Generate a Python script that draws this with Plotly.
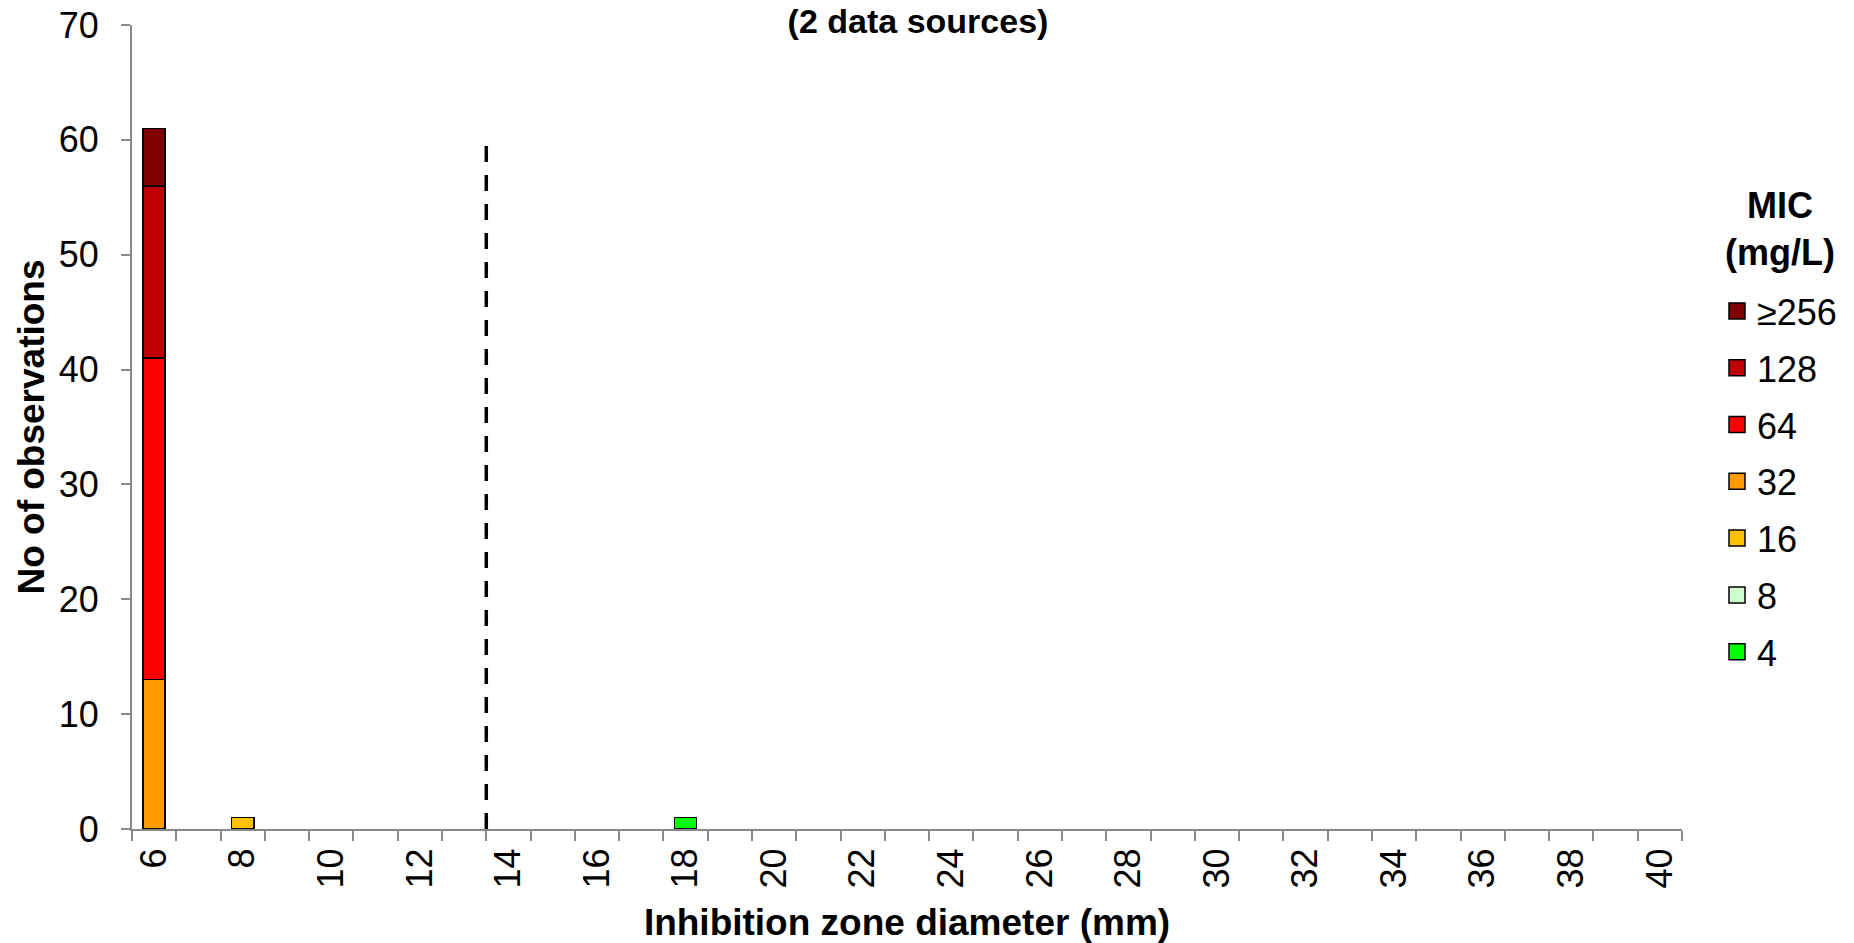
import plotly.graph_objects as go

# Inhibition zone diameters (mm) on the x axis
zone_min, zone_max = 6, 40
tick_labels = list(range(6, 41, 2))

# MIC classes, drawn bottom-to-top in the stack
mic_classes = ["4", "8", "16", "32", "64", "128", "≥256"]
mic_colors = ["#00FF00", "#CCFFCC", "#FFC000", "#FF9900", "#FF0000", "#C00000", "#800000"]

# Observation counts per MIC class: (diameter, count)
diam_4 = [18]
count_4 = [1]
diam_8 = []
count_8 = []
diam_16 = [8]
count_16 = [1]
diam_32 = [6]
count_32 = [13]
diam_64 = [6]
count_64 = [28]
diam_128 = [6]
count_128 = [15]
diam_256 = [6]
count_256 = [5]

series_x = [diam_4, diam_8, diam_16, diam_32, diam_64, diam_128, diam_256]
series_y = [count_4, count_8, count_16, count_32, count_64, count_128, count_256]

# Breakpoint marker between 13 and 14 mm
breakpoint_x = 13.5
breakpoint_top = 60

FONT = "Liberation Sans, Arial, sans-serif"
AXIS_GRAY = "#898989"

ML, MR, MT, MB = 132, 172, 25, 114
PLOT_W = 1854 - ML - MR
PLOT_H = 943 - MT - MB

fig = go.Figure()

for name, color, xs, ys in zip(mic_classes, mic_colors, series_x, series_y):
    fig.add_trace(go.Bar(
        x=xs, y=ys, name=name, width=0.5,
        marker=dict(color=color, line=dict(color="black", width=1.6)),
        legendgroup=name, showlegend=False,
    ))

# Legend entries with larger square swatches, highest MIC first
for name, color in reversed(list(zip(mic_classes, mic_colors))):
    fig.add_trace(go.Scatter(
        x=[None], y=[None], mode="markers", name=name, legendgroup=name,
        marker=dict(symbol="square", size=16, color=color,
                    line=dict(color="black", width=1.5)),
    ))

fig.add_shape(
    type="line", xref="x", yref="y",
    x0=breakpoint_x, x1=breakpoint_x, y0=0, y1=breakpoint_top,
    line=dict(color="black", width=3.5, dash="16px,13px"),
)

# Legend heading, centred over the swatches
fig.add_annotation(
    text="<b>MIC</b><br><b>(mg/L)</b>",
    xref="paper", yref="paper",
    x=(1780 - ML) / PLOT_W, y=(943 - MB - 229) / PLOT_H,
    xanchor="center", yanchor="middle", align="center",
    showarrow=False,
    font=dict(family=FONT, size=36, color="black"),
)

fig.update_layout(
    width=1854, height=943,
    barmode="stack",
    plot_bgcolor="white", paper_bgcolor="white",
    margin=dict(l=ML, r=MR, t=MT, b=MB, autoexpand=False),
    font=dict(family=FONT, color="black"),
    title=dict(
        text="(2 data sources)",
        font=dict(family=FONT, size=34, weight="bold", color="black"),
        xref="container", yref="container",
        x=918 / 1854, y=1 - 21 / 943, xanchor="center", yanchor="middle",
    ),
    legend=dict(
        font=dict(family=FONT, size=36),
        traceorder="grouped",
        tracegroupgap=7,
        x=(1717 - ML) / PLOT_W, xanchor="left",
        y=(943 - MB - 281) / PLOT_H, yanchor="top",
        bgcolor="rgba(0,0,0,0)",
    ),
    xaxis=dict(
        range=[zone_min - 0.5, zone_max + 0.5],
        tickvals=tick_labels,
        ticktext=[str(v) for v in tick_labels],
        tickangle=-90,
        ticks="",
        ticklabelstandoff=3,
        tickfont=dict(family=FONT, size=36),
        minor=dict(
            tickvals=[v + 0.5 for v in range(zone_min - 1, zone_max + 1)],
            ticks="outside", ticklen=10, tickwidth=2, tickcolor=AXIS_GRAY,
            showgrid=False,
        ),
        showline=True, linecolor=AXIS_GRAY, linewidth=2,
        showgrid=False, zeroline=False,
        title=dict(text="Inhibition zone diameter (mm)", standoff=38,
                   font=dict(family=FONT, size=37, weight="bold")),
    ),
    yaxis=dict(
        range=[0, 70], dtick=10,
        ticks="outside", ticklen=9, tickwidth=2, tickcolor=AXIS_GRAY,
        ticklabelstandoff=15,
        tickfont=dict(family=FONT, size=36),
        showline=True, linecolor=AXIS_GRAY, linewidth=2,
        showgrid=False, zeroline=False,
        title=dict(text="No of observations", standoff=3,
                   font=dict(family=FONT, size=37, weight="bold")),
    ),
)

fig.write_html("out.html")
